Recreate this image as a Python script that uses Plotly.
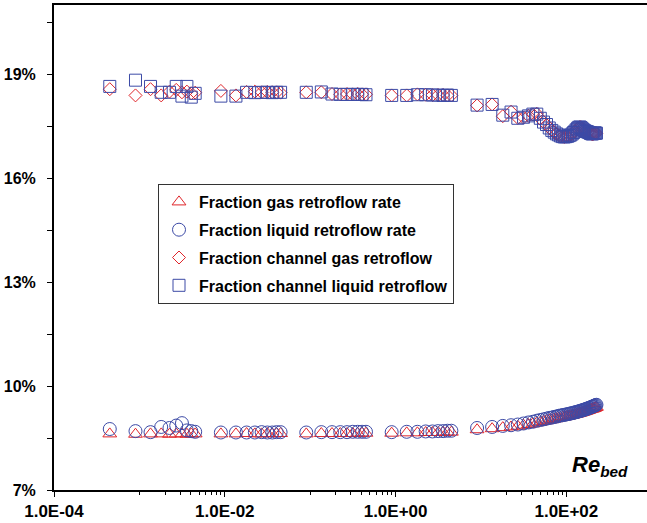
import plotly.graph_objects as go

# ---------------- data ----------------
re_bed = [
    4.5e-4, 9.0e-4, 1.35e-3, 1.8e-3, 2.25e-3, 2.7e-3, 3.15e-3, 3.6e-3, 4.05e-3, 4.5e-3,
    9.0e-3, 1.35e-2, 1.8e-2, 2.25e-2, 2.7e-2, 3.15e-2, 3.6e-2, 4.05e-2, 4.5e-2,
    0.09, 0.135, 0.18, 0.225, 0.27, 0.315, 0.36, 0.405, 0.45,
    0.9, 1.35, 1.8, 2.25, 2.7, 3.15, 3.6, 4.05, 4.5,
    9, 13.5, 18, 22.5, 27, 31.5, 36, 40.5, 45, 49.5, 54, 58.5, 63, 67.5, 72, 76.5,
    81, 85.5, 90, 94.5, 99, 103.5, 108, 112.5, 117, 121.5, 126, 130.5, 135, 139.5,
    144, 148.5, 153, 157.5, 162, 166.5, 171, 175.5, 180, 184.5, 189, 193.5, 198,
    202.5, 207, 211.5, 216, 220.5, 225,
]

gas_retroflow_rate = [
    8.62, 8.61, 8.62, 8.62, 8.61, 8.62, 8.62, 8.61, 8.62, 8.62,
    8.62, 8.62, 8.63, 8.62, 8.62, 8.63, 8.62, 8.63, 8.63,
    8.62, 8.63, 8.63, 8.63, 8.63, 8.63, 8.64, 8.64, 8.64,
    8.64, 8.65, 8.65, 8.66, 8.66, 8.66, 8.67, 8.67, 8.67,
    8.74, 8.77, 8.80, 8.82, 8.84, 8.87, 8.89, 8.91, 8.94, 8.96, 8.98, 9.00, 9.02,
    9.03, 9.05, 9.06, 9.08, 9.09, 9.10, 9.11, 9.12, 9.13, 9.14, 9.15, 9.16, 9.17,
    9.18, 9.19, 9.20, 9.21, 9.22, 9.23, 9.24, 9.25, 9.26, 9.27, 9.28, 9.29, 9.30,
    9.31, 9.32, 9.33, 9.34, 9.34, 9.35, 9.36, 9.37, 9.38, 9.39,
]

liquid_retroflow_rate = [
    8.76, 8.70, 8.67, 8.82, 8.79, 8.86, 8.93, 8.72, 8.70, 8.68,
    8.66, 8.66, 8.66, 8.66, 8.67, 8.66, 8.66, 8.67, 8.67,
    8.66, 8.67, 8.67, 8.67, 8.67, 8.68, 8.68, 8.68, 8.68,
    8.67, 8.68, 8.68, 8.69, 8.69, 8.70, 8.70, 8.71, 8.71,
    8.79, 8.82, 8.85, 8.87, 8.89, 8.92, 8.95, 8.97, 9.00, 9.02, 9.04, 9.06, 9.08,
    9.09, 9.11, 9.12, 9.14, 9.15, 9.16, 9.17, 9.18, 9.19, 9.20, 9.21, 9.22, 9.23,
    9.24, 9.25, 9.26, 9.27, 9.28, 9.29, 9.30, 9.31, 9.32, 9.33, 9.34, 9.35, 9.36,
    9.37, 9.38, 9.39, 9.40, 9.41, 9.42, 9.43, 9.44, 9.45, 9.46,
]

channel_gas_retroflow = [
    18.57, 18.39, 18.57, 18.39, 18.50, 18.55, 18.48, 18.50, 18.45, 18.47,
    18.52, 18.39, 18.49, 18.50, 18.48, 18.49, 18.48, 18.48, 18.47,
    18.48, 18.48, 18.43, 18.42, 18.43, 18.42, 18.43, 18.42, 18.42,
    18.39, 18.39, 18.42, 18.41, 18.40, 18.40, 18.40, 18.39, 18.39,
    18.10, 18.13, 17.79, 17.92, 17.74, 17.75, 17.80, 17.84, 17.86, 17.72, 17.62,
    17.54, 17.46, 17.38, 17.32, 17.28, 17.24, 17.22, 17.20, 17.19, 17.20, 17.22,
    17.23, 17.26, 17.28, 17.31, 17.35, 17.40, 17.43, 17.46, 17.48, 17.47, 17.44,
    17.41, 17.38, 17.36, 17.35, 17.33, 17.32, 17.31, 17.30, 17.29, 17.28, 17.27,
    17.28, 17.29, 17.30, 17.30, 17.30,
]

channel_liquid_retroflow = [
    18.65, 18.83, 18.65, 18.48, 18.48, 18.65, 18.37, 18.65, 18.34, 18.45,
    18.37, 18.37, 18.48, 18.47, 18.48, 18.48, 18.47, 18.48, 18.48,
    18.48, 18.49, 18.43, 18.42, 18.42, 18.42, 18.42, 18.42, 18.41,
    18.39, 18.39, 18.41, 18.41, 18.40, 18.40, 18.39, 18.40, 18.39,
    18.11, 18.13, 17.82, 17.91, 17.73, 17.76, 17.80, 17.85, 17.85, 17.73, 17.62,
    17.55, 17.45, 17.38, 17.33, 17.28, 17.25, 17.22, 17.20, 17.19, 17.20, 17.21,
    17.23, 17.25, 17.28, 17.32, 17.36, 17.40, 17.44, 17.47, 17.48, 17.46, 17.43,
    17.40, 17.38, 17.36, 17.35, 17.34, 17.33, 17.32, 17.30, 17.29, 17.28, 17.28,
    17.29, 17.30, 17.31, 17.30, 17.30,
]

series_names = [
    "Fraction gas retroflow rate",
    "Fraction liquid retroflow rate",
    "Fraction channel gas retroflow",
    "Fraction channel liquid retroflow",
]

x_tick_vals = [1e-4, 1e-2, 1e0, 1e2]
x_tick_text = ["1.0E-04", "1.0E-02", "1.0E+00", "1.0E+02"]
x_minor_vals = [k * 10.0 ** e for e in (-3, -1, 1) for k in range(1, 10)]
y_tick_vals = [7, 10, 13, 16, 19]
y_tick_text = ["7%", "10%", "13%", "16%", "19%"]
y_minor_vals = [8.5, 11.5, 14.5, 17.5, 20.5]

# ---------------- styles ----------------
RED = "#E0262B"
BLUE = "#3C4AA6"
FONT = "Arial, Liberation Sans, sans-serif"

styles = [
    dict(symbol="triangle-up-open", color=RED, size=12),
    dict(symbol="circle-open", color=BLUE, size=13),
    dict(symbol="diamond-open", color=RED, size=10),
    dict(symbol="square-open", color=BLUE, size=12),
]
values = [gas_retroflow_rate, liquid_retroflow_rate,
          channel_gas_retroflow, channel_liquid_retroflow]

fig = go.Figure()
for i, (name, vals, st) in enumerate(zip(series_names, values, styles)):
    fig.add_trace(go.Scatter(
        x=re_bed, y=vals, mode="markers", name=name,
        legendgroup=f"g{i}",
        marker=dict(symbol=st["symbol"], size=st["size"],
                    color=st["color"], line=dict(width=1, color=st["color"])),
    ))

W, H = 647, 523
L, R, T, B = 54, 0, 5, 33

fig.update_layout(
    width=W, height=H,
    margin=dict(l=L, r=R, t=T, b=B),
    paper_bgcolor="white", plot_bgcolor="white",
    font=dict(family=FONT, color="black"),
    showlegend=True,
    legend=dict(
        x=(158 - L) / (W - L - R), y=(H - B - 184) / (H - B - T),
        xanchor="left", yanchor="top",
        bgcolor="white", bordercolor="#333333", borderwidth=1,
        font=dict(family=FONT, size=16, color="black", weight="bold"),
        traceorder="grouped", tracegroupgap=4,
        itemwidth=30,
        entrywidth=268, entrywidthmode="pixels",
    ),
    xaxis=dict(
        type="log", range=[-4, 2.944],
        tickmode="array", tickvals=x_tick_vals, ticktext=x_tick_text,
        ticks="outside", ticklen=5, tickwidth=1, tickcolor="black",
        showline=True, linewidth=2, linecolor="black", mirror=True,
        showgrid=False, zeroline=False,
        tickfont=dict(family=FONT, size=17, color="black", weight="bold"),
        minor=dict(tickmode="array", tickvals=x_minor_vals, ticks="outside",
                   ticklen=3, tickwidth=1, tickcolor="black", showgrid=False),
    ),
    yaxis=dict(
        range=[7, 21],
        tickmode="array", tickvals=y_tick_vals, ticktext=y_tick_text,
        ticks="outside", ticklen=5, tickwidth=1, tickcolor="black",
        ticklabelstandoff=8,
        showline=True, linewidth=2, linecolor="black", mirror=False,
        showgrid=False, zeroline=False,
        tickfont=dict(family=FONT, size=16, color="black", weight="bold"),
        minor=dict(tickmode="array", tickvals=y_minor_vals, ticks="outside",
                   ticklen=5, tickwidth=1, tickcolor="black", showgrid=False),
    ),
    annotations=[dict(
        xref="paper", yref="paper",
        x=(630 - L) / (W - L - R), y=(H - B - 466) / (H - B - T),
        xanchor="right", yanchor="middle", showarrow=False,
        text="<b><i>Re<sub>bed</sub></i></b>",
        font=dict(family=FONT, size=22, color="black"),
    )],
)

fig.write_html(
    "out.html",
    config={"displayModeBar": False},
    post_script="document.body.style.margin='0';document.body.style.overflow='hidden';",
)
